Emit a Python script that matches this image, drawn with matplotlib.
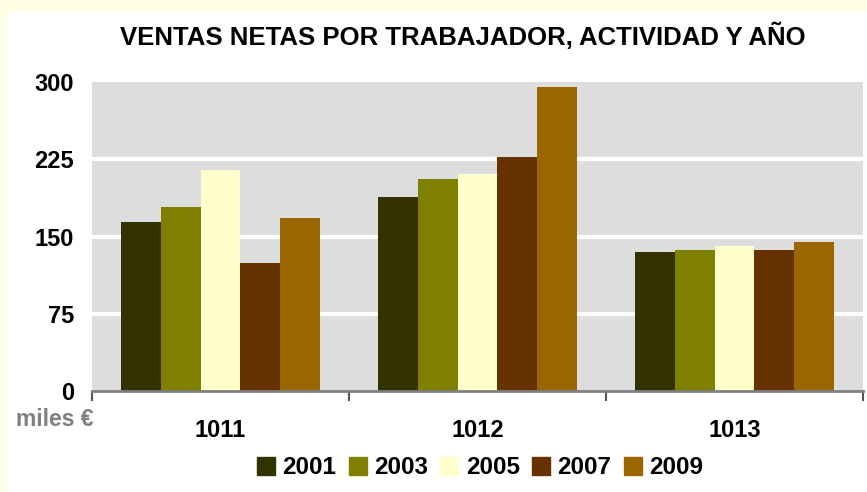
import matplotlib
matplotlib.use("Agg")
import matplotlib.pyplot as plt
import matplotlib.patches as mpatches
import numpy as np

plt.rcParams["font.family"] = ["Liberation Sans", "DejaVu Sans"]
plt.rcParams["font.weight"] = "bold"

# Datos (miles de euros)
categorias = ["1011", "1012", "1013"]
anios = ["2001", "2003", "2005", "2007", "2009"]
ventas_2001 = [164, 188, 135]
ventas_2003 = [179, 206, 137]
ventas_2005 = [215, 211, 141]
ventas_2007 = [124, 227, 137]
ventas_2009 = [168, 295, 145]
series = [ventas_2001, ventas_2003, ventas_2005, ventas_2007, ventas_2009]
colores = ["#333300", "#808000", "#FFFFCC", "#663300", "#996600"]
yticks = [0, 75, 150, 225, 300]

W, H = 867, 492
fig = plt.figure(figsize=(W / 100, H / 100), dpi=100, facecolor="#FFFFE6")
# Zona blanca del gráfico (borde amarillo arriba e izquierda)
fondo = mpatches.Rectangle((7 / W, 0), 1, 1 - 12 / H, transform=fig.transFigure,
                           facecolor="white", edgecolor="none", zorder=-10)
fig.patches.append(fondo)

ax = fig.add_axes([92 / W, 1 - 391 / H, (863 - 92) / W, (391 - 82) / H])
ax.set_facecolor("#DDDDDD")

x = np.arange(len(categorias))
ancho = 0.1556
for i, (vals, col) in enumerate(zip(series, colores)):
    ax.bar(x + (i - 2) * ancho, vals, ancho, color=col, edgecolor="none", zorder=3)

ax.set_xlim(-0.5, 2.5)
ax.set_ylim(0, 300)
ax.set_yticks(yticks)
ax.set_yticklabels([str(v) for v in yticks], fontsize=17, fontweight="bold")
for v in yticks[1:-1]:
    ax.axhline(v, color="white", lw=3, zorder=1)

# Eje x: marcas en los límites de grupo, etiquetas centradas
ax.set_xticks([-0.5, 0.5, 1.5, 2.5])
ax.set_xticklabels([])
ax.set_xticks(x, minor=True)
ax.set_xticklabels(categorias, minor=True, fontsize=17, fontweight="bold")
ax.tick_params(axis="x", which="major", length=7, width=1.5, color="#555555")
ax.tick_params(axis="x", which="minor", length=0, pad=20)
ax.tick_params(axis="y", length=0, pad=13)

for s in ["top", "right", "left"]:
    ax.spines[s].set_visible(False)
ax.spines["bottom"].set_color("#808080")
ax.spines["bottom"].set_linewidth(2)
ax.spines["bottom"].set_zorder(4)

fig.text(463 / W, 1 - 36 / H, "VENTAS NETAS POR TRABAJADOR, ACTIVIDAD Y AÑO",
         ha="center", va="center", fontsize=18.5, fontweight="bold")
fig.text(55 / W, 1 - 419 / H, "miles €", ha="center", va="center",
         fontsize=16.5, fontweight="bold", color="#808080")

handles = [mpatches.Patch(color=c, label=a) for c, a in zip(colores, anios)]
fig.legend(handles=handles, loc="center", bbox_to_anchor=(480 / W, 1 - 468 / H), ncol=5,
           frameon=False, prop={"size": 17.5, "weight": "bold"},
           handlelength=0.75, handleheight=0.75, handletextpad=0.3, columnspacing=0.5)

fig.savefig("out.png", dpi=100, facecolor=fig.get_facecolor())
